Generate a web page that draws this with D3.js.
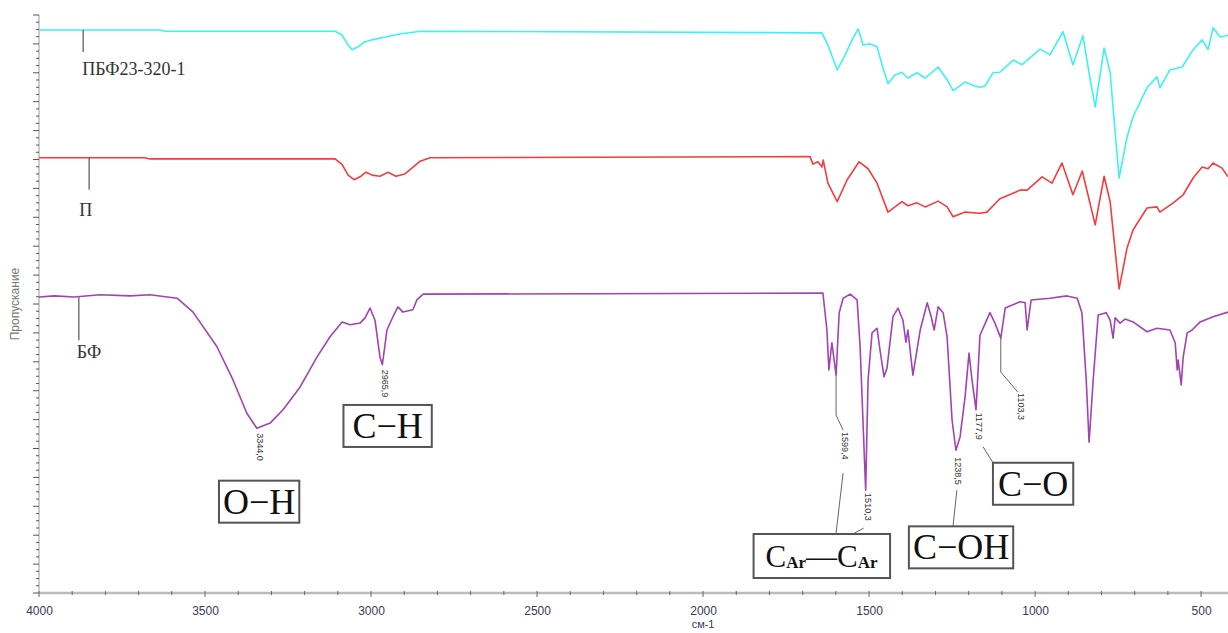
<!DOCTYPE html>
<html><head><meta charset="utf-8">
<script src="https://cdn.jsdelivr.net/npm/d3@7"></script>
<style>body{margin:0;background:#fff}svg{display:block}</style>
</head><body><svg id="c" width="1228" height="633"></svg>
<script>
// ---------- DATA ----------
const seriesNames = ["ПБФ23-320-1", "П", "БФ"];
const xTickLabels = [4000, 3500, 3000, 2500, 2000, 1500, 1000, 500];
const xAxisTitle = "см-1";
const yAxisTitle = "Пропускание";

// [wavenumber cm-1, transmittance (arb.)]
const spectrumPBF = [
 [4000,97.4],[3636,97.4],[3620,97.2],[3108,97.2],[3087,96.5],[3069,94.8],[3057,94.0],[3039,94.5],
 [3021,95.3],[2997,95.7],[2958,96.2],[2913,96.7],[2852,97.2],[1642,96.9],[1624,94.8],[1596,90.5],
 [1572,93.1],[1551,95.7],[1533,97.6],[1518,94.8],[1497,95.0],[1476,94.5],[1461,91.4],[1443,88.1],
 [1422,89.6],[1401,90.1],[1383,89.1],[1356,90.0],[1331,89.1],[1292,91.0],[1265,88.8],[1247,86.9],
 [1211,88.4],[1181,87.7],[1166,87.5],[1151,87.7],[1127,90.0],[1106,90.1],[1066,92.2],[1039,91.4],
 [985,94.1],[955,93.1],[916,97.1],[886,91.4],[856,96.4],[834,88.8],[819,84.1],[792,94.3],[774,90.1],
 [762,81.8],[747,71.8],[723,78.9],[705,82.4],[663,87.4],[633,89.3],[624,87.4],[594,90.5],[557,91.0],
 [524,94.0],[497,95.7],[479,94.0],[464,97.8],[443,96.2],[419,96.5]
];
const spectrumP = [
 [4000,75.3],[3681,75.3],[3666,75.1],[3108,75.1],[3087,74.1],[3069,72.3],[3051,71.5],[3033,72.0],
 [3015,72.8],[2997,72.3],[2973,72.1],[2949,72.8],[2925,72.1],[2898,72.5],[2877,73.5],[2852,74.7],
 [2822,75.3],[1678,75.5],[1669,74.2],[1654,74.6],[1642,73.7],[1638,74.9],[1624,70.9],[1596,67.7],
 [1566,71.5],[1530,74.6],[1503,73.4],[1476,70.9],[1443,65.9],[1401,67.7],[1383,67.0],[1356,67.5],
 [1331,66.8],[1292,67.8],[1265,66.8],[1247,65.1],[1211,65.9],[1166,65.7],[1145,65.9],[1106,68.2],
 [1045,69.7],[1024,69.7],[979,72.0],[949,70.9],[919,74.4],[886,68.9],[858,73.0],[819,63.7],[792,72.1],
 [774,67.7],[747,52.6],[723,59.7],[705,62.8],[663,66.6],[633,66.8],[624,65.9],[584,67.5],[554,68.9],
 [524,71.8],[497,73.7],[479,73.4],[464,74.4],[437,73.5],[419,72.0]
];
const spectrumBF = [
 [4000,51.2],[3954,51.4],[3894,51.2],[3816,51.6],[3726,51.4],[3666,51.6],[3584,51.0],[3536,48.6],
 [3464,42.6],[3416,36.9],[3374,31.1],[3344,28.5],[3304,29.4],[3265,31.7],[3214,35.6],[3163,40.8],
 [3124,44.3],[3087,46.9],[3063,46.4],[3033,46.7],[3018,47.6],[3003,49.3],[2988,47.2],[2973,40.8],
 [2965.9,39.5],[2958,42.9],[2952,45.5],[2934,47.8],[2919,49.5],[2904,48.6],[2874,49.0],[2862,50.7],
 [2843,51.7],[1639,51.9],[1627,45.5],[1621,38.6],[1612,43.3],[1599.4,37.7],[1590,48.5],[1578,51.0],
 [1557,51.7],[1536,50.7],[1527,42.6],[1510.3,17.8],[1503,36.9],[1491,45.0],[1476,45.8],[1467,42.0],
 [1455,37.4],[1446,38.9],[1428,47.8],[1413,49.3],[1398,47.2],[1389,43.4],[1383,45.5],[1368,37.7],
 [1346,45.5],[1325,50.2],[1313,47.8],[1304,45.5],[1292,49.5],[1277,48.5],[1265,44.3],[1250,29.9],
 [1238.5,24.7],[1226,27.0],[1211,33.9],[1199,41.5],[1190,36.9],[1177.9,31.7],[1166,44.6],[1136,48.5],
 [1121,46.7],[1103.3,44.1],[1090,49.3],[1045,50.4],[1030,50.2],[1024,45.5],[1012,50.7],[955,51.0],
 [904,51.4],[873,51.0],[859,48.5],[846,36.9],[837.4,26.1],[825,36.9],[810,48.1],[786,48.5],[774,47.2],
 [765,44.1],[759,47.6],[744,46.7],[729,47.4],[705,46.9],[663,45.2],[633,45.8],[594,45.5],[578,43.3],
 [572,38.6],[569,40.3],[560,36.0],[554,40.8],[542,45.0],[527,45.5],[503,46.9],[464,47.8],[419,48.6]
];
const peakWavenumbers = [3344.0, 2965.9, 1599.4, 1510.3, 1238.5, 1177.9, 1103.3];
const peakLabels = ["3344,0", "2965,9", "1599,4", "1510,3", "1238,5", "1177,9", "1103,3"];
const bondLabels = ["O−H", "C−H", "CAr—CAr", "C−OH", "C−O"];
const bondPos = [[3337, 15.8], [2950, 28.9], [1643, 6.4], [1223, 7.9], [1006, 18.9]];

// ---------- CHART ----------
const W = 1228, H = 633;
const svg = d3.select("#c");
const x = d3.scaleLinear().domain([4000, 419]).range([39, 1228]);
const y = d3.scaleLinear().domain([0, 100]).range([593, 15]);

const colors = ["#3ef2f4", "#f53c3c", "#a243b4"];
const spectra = [spectrumPBF, spectrumP, spectrumBF];

// y axis
const yg = svg.append("g").attr("transform", `translate(${x(4000)},0)`);
yg.append("line").attr("y1", y(0)).attr("y2", y(100)).attr("stroke", "#bbb").attr("stroke-width", 1.5);
yg.selectAll("line.t").data(d3.range(0, 100.01, 1.25)).join("line")
  .attr("class", "t").attr("x1", d => (d % 5 === 0 ? -6 : -3)).attr("x2", 0)
  .attr("y1", d => y(d)).attr("y2", d => y(d)).attr("stroke", "#555").attr("stroke-width", 1);

// x axis
const xg = svg.append("g").attr("transform", `translate(0,${y(0)})`);
xg.append("line").attr("x1", x(4000)).attr("x2", W).attr("stroke", "#bbb").attr("stroke-width", 2.5);
xg.selectAll("line.m").data(d3.range(4000, 419, -100)).join("line").attr("class", "m")
  .attr("x1", d => x(d)).attr("x2", d => x(d)).attr("y1", -2).attr("y2", d => (d % 500 === 0 ? 4 : 2))
  .attr("stroke", "#666").attr("stroke-width", 1);
const xAxis = d3.axisBottom(x).tickValues(xTickLabels).tickSize(0).tickPadding(13).tickFormat(d3.format("d"));
const xa = svg.append("g").attr("transform", `translate(0,${y(0)})`).call(xAxis);
xa.select(".domain").remove();
xa.selectAll("text").attr("font-family", "Liberation Sans, Arial, sans-serif").attr("font-size", 12)
  .attr("fill", "#3a3a60");
svg.append("text").attr("x", x(2000)).attr("y", 628).attr("text-anchor", "middle")
  .attr("font-family", "Liberation Sans, Arial, sans-serif").attr("font-size", 11).attr("fill", "#3a3a60").text(xAxisTitle);
svg.append("text").attr("transform", `translate(19,${y(50)}) rotate(-90)`).attr("text-anchor", "middle")
  .attr("font-family", "Liberation Sans, Arial, sans-serif").attr("font-size", 12).attr("fill", "#777").text(yAxisTitle);

// spectra
const line = d3.line().x(d => x(d[0])).y(d => y(d[1])).curve(d3.curveLinear);
spectra.forEach((s, i) => {
  svg.append("path").datum(s).attr("d", line).attr("fill", "none")
    .attr("stroke", colors[i]).attr("stroke-width", 1.6).attr("stroke-linejoin", "round");
});

// series labels
const labelWn = [3867, 3849, 3880];
const leaderLen = [22, 32, 43];
const labelGap = [27, 30, 22];
const labelDx = [-1, -10, -2];
spectra.forEach((s, i) => {
  const v = d3.scaleLinear().domain(s.map(d => d[0]).slice(0, 3)).range(s.map(d => d[1]).slice(0, 3))(labelWn[i]);
  const px = x(labelWn[i]), py = y(v);
  svg.append("line").attr("x1", px).attr("x2", px).attr("y1", py).attr("y2", py + leaderLen[i])
    .attr("stroke", "#555").attr("stroke-width", 1.2);
  svg.append("text").attr("x", px + labelDx[i]).attr("y", py + leaderLen[i] + labelGap[i] - 4)
    .attr("font-family", "Liberation Serif, Times New Roman, serif").attr("font-size", 18).attr("fill", "#333")
    .text(seriesNames[i]);
});

// peak labels
function valAt(wn) { const p = spectrumBF.find(d => d[0] === wn); return p[1]; }
const peakStyle = [
  {lead: [], tx: 3, ty: 5},
  {lead: [], tx: 3, ty: 5},
  {lead: [[0, 0], [0, 40], [7, 55]], tx: 9, ty: 57, lead2: [[7, 98], [0, 158]]},
  {lead: [], tx: 2, ty: 3, lead2: [[-2, 38], [-13, 44]]},
  {lead: [], tx: 2, ty: 7, lead2: [[1, 40], [-3, 77]]},
  {lead: [], tx: 3, ty: 3, lead2: [[7, 37], [17, 53]]},
  {lead: [[0, 0], [0, 34], [17, 54]], tx: 20, ty: 55}
];
const lg = d3.line();
peakWavenumbers.forEach((wn, i) => {
  const px = x(wn), py = y(valAt(wn)), st = peakStyle[i];
  if (st.lead.length) svg.append("path").attr("d", lg(st.lead.map(p => [px + p[0], py + p[1]])))
    .attr("fill", "none").attr("stroke", "#666").attr("stroke-width", 1);
  if (st.lead2) svg.append("path").attr("d", lg(st.lead2.map(p => [px + p[0], py + p[1]])))
    .attr("fill", "none").attr("stroke", "#666").attr("stroke-width", 1);
  svg.append("text").attr("transform", `translate(${px + st.tx - 3},${py + st.ty}) rotate(90)`)
    .attr("font-family", "Liberation Sans, Arial, sans-serif").attr("font-size", 9).attr("fill", "#333")
    .text(peakLabels[i]);
});

// bond boxes
const serif = "Liberation Serif, Times New Roman, serif";
const bondPad = [4, 9, 12, 4, 5];
bondLabels.forEach((lab, i) => {
  const cx = x(bondPos[i][0]), cy = y(bondPos[i][1]);
  const g = svg.append("g");
  const t = g.append("text").attr("x", cx).attr("y", cy).attr("text-anchor", "middle")
    .attr("dominant-baseline", "central").attr("font-family", serif).attr("fill", "#111");
  if (lab === "CAr—CAr") {
    t.attr("font-size", 31);
    t.append("tspan").text("C");
    t.append("tspan").attr("font-size", 17).attr("font-weight", "bold").attr("dy", 6).text("Ar");
    t.append("tspan").attr("dy", -6).text("—");
    t.append("tspan").text("C");
    t.append("tspan").attr("font-size", 17).attr("font-weight", "bold").attr("dy", 6).text("Ar");
  } else {
    t.attr("font-size", 36).text(lab);
  }
  const bb = t.node().getBBox();
  const padX = bondPad[i], h = lab === "CAr—CAr" ? 44 : 42;
  g.insert("rect", "text").attr("x", bb.x - padX).attr("y", cy - h / 2).attr("width", bb.width + 2 * padX)
    .attr("height", h).attr("fill", "#fff").attr("stroke", "#555").attr("stroke-width", 2);
});
</script></body></html>
